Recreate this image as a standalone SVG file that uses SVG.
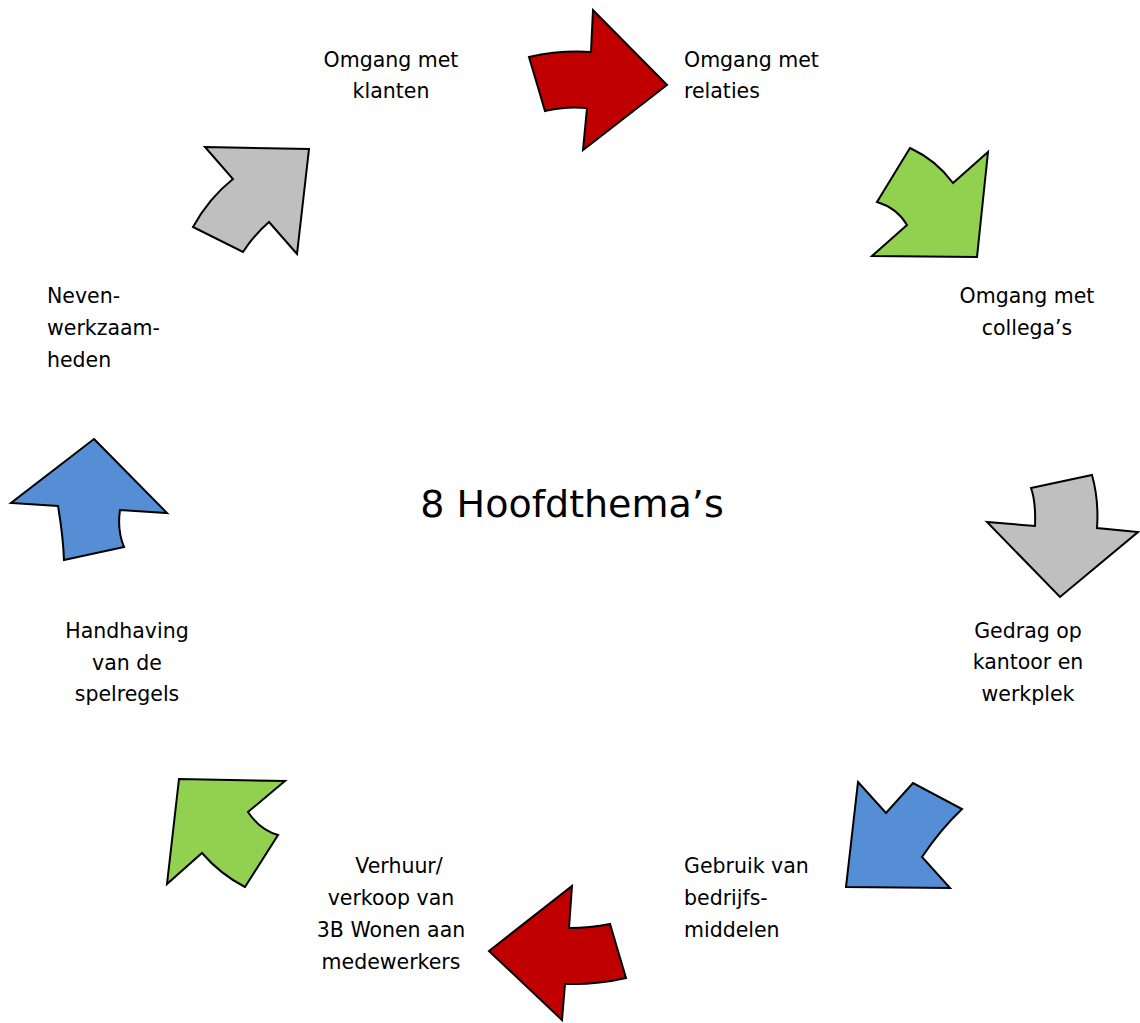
<svg xmlns="http://www.w3.org/2000/svg" width="1140" height="1023" viewBox="0 0 1140 1023">
<style>
  .arr { stroke: #000; stroke-width: 2; stroke-linejoin: miter; }
  .red { fill: #C00000; }
  .green { fill: #92D050; }
  .gray { fill: #BFBFBF; }
  .blue { fill: #558ED5; }
  text { font-family: "DejaVu Sans", Verdana, sans-serif; font-size: 20.5px; fill: #000; }
  .c { text-anchor: middle; }
  .l { text-anchor: start; }
  .title { font-size: 38px; text-anchor: middle; }
</style>
<rect width="1140" height="1023" fill="#fff"/>
<g id="connectors">
  <path id="arrow-top" class="arr red" d="M529,57 Q560,50 591,52 L593,10 L667,85 L583,150 L587,108 Q565,106 545,111 Z"/>
  <path id="arrow-topright" class="arr green" d="M910,148 Q936,160 953,183 L988,152 L977,257 L872,256 L907,225 Q897,208 877,202 Z"/>
  <path id="arrow-right" class="arr gray" d="M1031,488 L1092,475 Q1099,500 1097,528 L1138,532 L1060,597 L987,522 L1035,526 Q1036,502 1031,488 Z"/>
  <path id="arrow-bottomright" class="arr blue" d="M858,782 L886,813 L913,783 L962,809 Q940,830 922,857 L950,888 L846,887 Z"/>
  <path id="arrow-bottom" class="arr red" d="M572,886 L569,928 Q590,928 610,924 L626,978 Q596,985 565,984 L562,1020 L489,951 Z"/>
  <path id="arrow-bottomleft" class="arr green" d="M179,779 L285,781 L248,812 Q260,830 278,835 L245,887 Q220,874 202,853 L167,884 Z"/>
  <path id="arrow-left" class="arr blue" d="M94,439 L167,513 L120,510 Q117,530 124,547 L64,560 Q63,535 58,506 L11,503 Z"/>
  <path id="arrow-topleft" class="arr gray" d="M205,147 L309,149 L297,254 L269,222 Q254,235 243,252 L193,227 Q209,198 233,179 Z"/>
</g>
<g id="node-center">
  <text class="title" x="572" y="517">8 Hoofdthema’s</text>
</g>
<g id="node-klanten">
  <text class="c" x="391" y="67">Omgang met</text>
  <text class="c" x="391" y="98">klanten</text>
</g>
<g id="node-relaties">
  <text class="l" x="684" y="67">Omgang met</text>
  <text class="l" x="684" y="98">relaties</text>
</g>
<g id="node-collegas">
  <text class="c" x="1027" y="303">Omgang met</text>
  <text class="c" x="1027" y="335">collega’s</text>
</g>
<g id="node-gedrag">
  <text class="c" x="1028" y="638">Gedrag op</text>
  <text class="c" x="1028" y="669">kantoor en</text>
  <text class="c" x="1028" y="701">werkplek</text>
</g>
<g id="node-bedrijfsmiddelen">
  <text class="l" x="684" y="873">Gebruik van</text>
  <text class="l" x="684" y="905">bedrijfs-</text>
  <text class="l" x="684" y="937">middelen</text>
</g>
<g id="node-verhuur">
  <text class="c" x="399" y="873">Verhuur/</text>
  <text class="c" x="391" y="905">verkoop van</text>
  <text class="c" x="391" y="937">3B Wonen aan</text>
  <text class="c" x="391" y="969">medewerkers</text>
</g>
<g id="node-handhaving">
  <text class="c" x="127" y="638">Handhaving</text>
  <text class="c" x="127" y="670">van de</text>
  <text class="c" x="127" y="701">spelregels</text>
</g>
<g id="node-neven">
  <text class="l" x="47" y="303">Neven-</text>
  <text class="l" x="47" y="335">werkzaam-</text>
  <text class="l" x="47" y="367">heden</text>
</g>
</svg>
